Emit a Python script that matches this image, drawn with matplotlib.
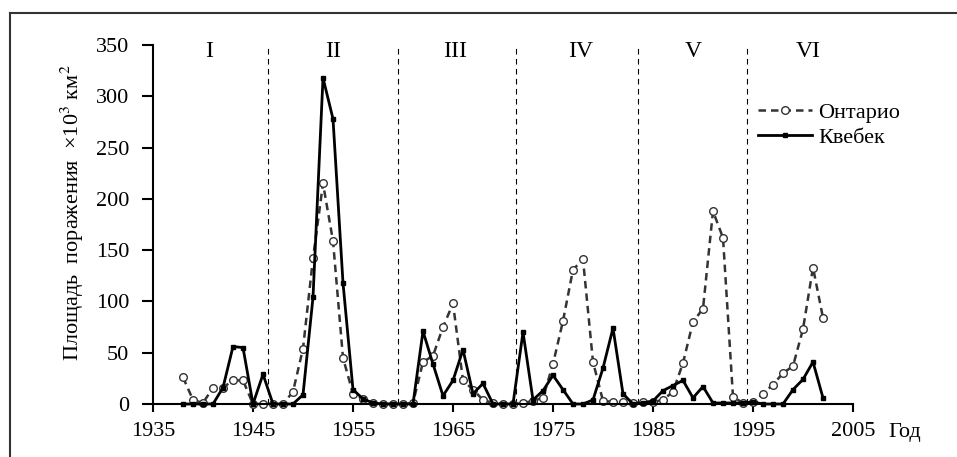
import matplotlib.pyplot as plt
import numpy as np
from matplotlib.lines import Line2D

plt.rcParams['font.family'] = ['Liberation Serif', 'DejaVu Serif']
plt.rcParams['mathtext.fontset'] = 'stix'

years = np.arange(1938, 2003)

ontario = [26, 4, 1, 16, 16, 23, 23, 0, 0, 0, 0, 12, 54, 142, 215, 159, 45, 10, 5, 1, 0, 0,
           0, 1, 41, 47, 75, 98, 23, 14, 4, 1, 0, 0, 1, 3, 6, 39, 81, 131, 141, 41, 3, 2, 2,
           1, 2, 2, 4, 12, 40, 80, 93, 188, 162, 7, 1, 2, 10, 19, 30, 37, 73, 133, 84]
quebec = [0, 0, 0, 0, 16, 56, 55, 0, 29, 0, 0, 0, 9, 104, 318, 278, 118, 14, 5, 1, 0, 0,
          0, 0, 71, 39, 8, 23, 53, 10, 20, 0, 0, 0, 70, 4, 13, 28, 14, 0, 0, 4, 35, 74, 10,
          0, 1, 3, 13, 18, 23, 6, 17, 1, 1, 1, 1, 2, 0, 0, 0, 14, 24, 41, 6]

period_bounds = [1946.5, 1959.5, 1971.3, 1983.5, 1994.4]
period_names = ['I', 'II', 'III', 'IV', 'V', 'VI']
period_x = [1940.6, 1953.0, 1965.2, 1977.8, 1989.0, 2000.5]

fig = plt.figure(figsize=(9.57, 4.57), dpi=100)
ax = fig.add_axes([153 / 957, 53 / 457, 700 / 957, 359 / 457])

ax.vlines(period_bounds, 0, 352, colors='black', linestyles=(0, (5, 4)), linewidth=0.8)
for x, name in zip(period_x, period_names):
    ax.text(x, 344, name, ha='center', va='center', fontsize=17)

ax.plot(years, ontario, color='#333333', linestyle=(0, (3, 2)), linewidth=1.8,
        marker='o', markersize=5.5, markerfacecolor='white', markeredgecolor='#333333',
        markeredgewidth=1.0, clip_on=False, label='Онтарио')
ax.plot(years, quebec, color='black', linestyle='-', linewidth=2.0,
        marker='s', markersize=3.5, clip_on=False, label='Квебек')

ax.set_xlim(1935, 2005)
ax.set_ylim(0, 350)
ax.set_xticks(np.arange(1935, 2006, 10))
ax.set_yticks(np.arange(0, 351, 50))
ax.tick_params(axis='x', direction='out', length=6, width=1.5, labelsize=16, pad=7)
ax.tick_params(axis='y', direction='out', length=8, width=1.5, labelsize=16, pad=9)
for side in ['top', 'right']:
    ax.spines[side].set_visible(False)
for side in ['left', 'bottom']:
    ax.spines[side].set_linewidth(1.5)

leg = ax.legend(loc='upper left', bbox_to_anchor=(0.864, 0.84), frameon=False,
                fontsize=16, handlelength=2.45, handletextpad=0.27, labelspacing=0.2,
                borderpad=0, borderaxespad=0)

fig.text(72 / 957, 1 - 213 / 457, 'Площадь  поражения  ×10$^3$ км$^2$', rotation=90,
         ha='center', va='center', fontsize=16)
fig.text(888 / 957, 1 - 432 / 457, 'Год', ha='left', va='center', fontsize=16)

# cropped frame around the figure (only top and left edges visible)
fig.add_artist(Line2D([10 / 957, 1], [1 - 13 / 457, 1 - 13 / 457], color='#333333', linewidth=1.5))
fig.add_artist(Line2D([10 / 957, 10 / 957], [0, 1 - 13 / 457], color='#333333', linewidth=1.5))

fig.savefig('out.png', dpi=100)
